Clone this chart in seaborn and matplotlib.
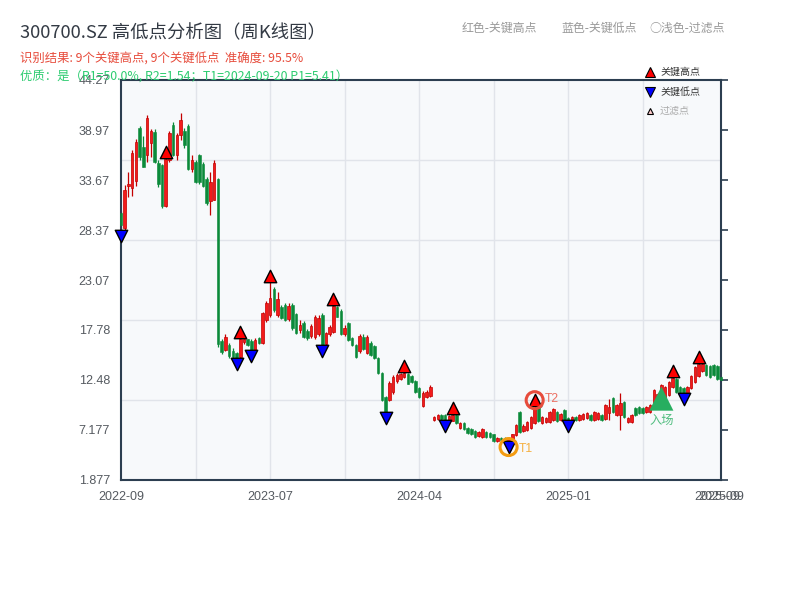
import matplotlib
matplotlib.use("Agg")
import matplotlib.pyplot as plt
import matplotlib.transforms as mtransforms
from matplotlib.lines import Line2D
import numpy as np
import pandas as pd
import seaborn as sns

# ---------------- data ----------------
opens = [30.2, 28.6, 33.0, 32.8, 33.6, 39.2, 37.2, 36.3, 37.6, 38.8,
         35.5, 35.3, 30.9, 35.8, 39.5, 36.3, 38.4, 38.9, 39.4, 34.8,
         35.6, 36.3, 35.4, 33.8, 31.4, 31.6, 33.8, 16.6, 15.7, 16.2,
         15.6, 15.3, 14.9, 16.5, 16.8, 16.6, 15.7, 16.9, 16.4, 18.8,
         19.4, 22.1, 19.4, 20.2, 20.4, 18.9, 20.4, 19.5, 17.8, 18.5,
         17.7, 17.1, 17.0, 17.3, 19.4, 16.3, 17.3, 17.6, 20.2, 19.8,
         17.3, 18.5, 16.9, 16.2, 15.5, 17.0, 15.3, 16.4, 16.1, 14.8,
         13.2, 10.7, 10.4, 11.2, 12.4, 12.6, 12.8, 13.1, 12.9, 12.4,
         11.6, 9.7, 10.7, 10.8, 8.2, 8.3, 8.8, 8.8, 8.2, 8.1,
         8.8, 7.4, 7.9, 7.4, 7.3, 7.1, 6.5, 6.4, 7.0, 6.9,
         6.7, 6.0, 6.3, 6.3, 6.0, 6.1, 6.6, 9.1, 7.1, 7.2,
         7.4, 7.9, 9.6, 7.9, 8.0, 8.0, 8.2, 9.1, 8.2, 9.3,
         8.5, 8.2, 8.6, 8.2, 8.3, 8.4, 8.8, 8.2, 8.3, 8.8,
         8.3, 9.0, 10.6, 8.8, 8.8, 10.1, 8.0, 8.0, 9.5, 9.6,
         9.5, 9.1, 9.1, 9.6, 10.4, 10.9, 10.1, 10.9, 11.7, 12.6,
         11.7, 11.6, 11.1, 11.6, 12.3, 12.9, 13.4, 14.1, 14.0, 14.1,
         14.0, 12.8]
closes = [28.9, 32.6, 33.3, 36.5, 37.7, 36.1, 35.1, 40.2, 38.9, 35.6,
          33.2, 30.9, 35.9, 38.6, 36.3, 38.4, 40.0, 37.4, 34.8, 35.8,
          33.5, 33.5, 33.0, 31.2, 33.5, 35.5, 16.3, 15.4, 17.0, 15.0,
          14.9, 14.8, 16.8, 16.8, 16.2, 15.7, 16.7, 16.4, 19.6, 20.6,
          21.2, 19.9, 21.1, 19.0, 18.8, 20.3, 18.0, 17.5, 18.3, 17.0,
          16.9, 18.2, 19.1, 19.0, 16.2, 17.5, 18.1, 20.3, 19.2, 17.3,
          18.0, 16.7, 16.2, 14.9, 17.1, 15.8, 17.0, 15.1, 14.8, 13.2,
          10.4, 9.1, 12.2, 12.8, 13.0, 13.1, 13.2, 12.1, 12.3, 11.2,
          10.7, 11.1, 11.2, 11.7, 8.6, 8.8, 8.3, 8.2, 8.7, 8.8,
          7.9, 7.9, 7.3, 6.9, 6.7, 6.4, 7.0, 7.3, 6.4, 6.4,
          6.0, 6.3, 6.1, 6.0, 6.3, 6.7, 7.7, 7.0, 7.6, 8.0,
          8.6, 9.5, 8.1, 8.6, 8.5, 9.1, 9.4, 8.1, 8.9, 8.2,
          8.2, 8.6, 8.2, 8.8, 8.9, 9.0, 8.2, 9.1, 9.0, 8.2,
          9.8, 9.6, 9.1, 9.8, 10.0, 8.6, 8.5, 8.8, 8.8, 9.0,
          9.0, 9.6, 9.8, 11.4, 11.0, 11.9, 11.7, 12.3, 12.7, 11.2,
          11.1, 11.1, 11.7, 12.9, 13.9, 14.2, 14.2, 13.0, 12.8, 13.0,
          12.6, 12.5]
highs = [30.4, 33.1, 34.5, 36.8, 38.0, 39.4, 38.3, 40.6, 39.1, 39.1,
         35.8, 35.4, 36.0, 38.9, 39.8, 38.7, 40.8, 39.2, 39.6, 36.3,
         35.8, 36.4, 35.6, 34.0, 34.5, 35.8, 33.9, 16.8, 17.4, 16.4,
         15.9, 15.4, 16.9, 16.85, 16.85, 16.8, 16.9, 17.0, 19.7, 20.8,
         22.9, 22.3, 21.8, 20.4, 20.6, 20.6, 20.6, 19.6, 18.8, 18.7,
         17.9, 18.4, 19.4, 19.4, 19.6, 17.6, 18.3, 20.4, 20.3, 20.0,
         18.3, 18.6, 17.0, 16.3, 17.4, 17.3, 17.2, 16.6, 16.2, 14.9,
         13.3, 10.8, 12.4, 13.0, 13.2, 13.25, 13.3, 13.2, 13.0, 12.5,
         11.7, 11.3, 11.4, 11.9, 8.7, 8.9, 8.9, 8.85, 8.8, 8.9,
         8.85, 8.0, 8.0, 7.5, 7.4, 7.2, 7.1, 7.4, 7.1, 7.0,
         6.8, 6.4, 6.4, 6.4, 6.4, 6.8, 7.8, 9.2, 7.8, 8.1,
         8.7, 9.7, 9.65, 8.7, 8.6, 9.2, 9.5, 9.2, 9.0, 9.4,
         8.6, 8.7, 8.7, 8.9, 9.0, 9.1, 8.9, 9.2, 9.1, 8.9,
         9.9, 10.5, 10.7, 9.9, 11.1, 10.2, 8.6, 8.9, 9.6, 9.7,
         9.6, 9.7, 9.9, 11.5, 11.1, 12.0, 11.8, 12.4, 12.8, 12.7,
         11.8, 11.7, 11.8, 13.0, 14.0, 14.3, 14.25, 14.2, 14.1, 14.2,
         14.1, 12.9]
lows = [28.3, 28.4, 31.9, 32.0, 33.0, 35.8, 35.0, 35.6, 36.1, 35.5,
        32.9, 30.7, 30.8, 35.6, 36.2, 35.8, 37.9, 37.1, 34.7, 34.5,
        33.4, 33.3, 32.9, 31.0, 30.0, 31.5, 16.0, 15.2, 15.6, 14.8,
        14.8, 14.7, 14.8, 16.3, 16.1, 15.55, 15.6, 16.3, 16.3, 18.6,
        19.2, 19.7, 19.2, 18.9, 18.7, 18.7, 17.8, 17.4, 17.5, 16.9,
        16.7, 16.9, 16.8, 17.1, 16.1, 16.2, 17.1, 17.5, 19.1, 17.2,
        17.1, 16.6, 16.1, 14.8, 15.3, 15.7, 15.2, 15.0, 14.7, 13.1,
        10.2, 9.0, 10.2, 11.0, 12.2, 12.5, 12.7, 12.0, 12.2, 11.1,
        10.6, 9.6, 10.6, 10.7, 8.15, 8.2, 8.2, 8.1, 8.15, 8.1,
        7.8, 7.3, 7.2, 6.8, 6.6, 6.3, 6.4, 6.3, 6.3, 6.3,
        5.95, 5.95, 6.0, 5.95, 5.9, 6.0, 6.5, 6.9, 7.0, 7.1,
        7.3, 7.8, 8.0, 7.8, 7.9, 7.9, 8.1, 8.0, 8.1, 8.15,
        8.1, 8.15, 8.15, 8.15, 8.2, 8.3, 8.15, 8.15, 8.2, 8.15,
        8.2, 8.2, 9.0, 8.7, 7.2, 8.5, 7.9, 7.9, 8.7, 8.9,
        8.9, 9.0, 9.0, 9.5, 10.3, 10.8, 10.0, 10.8, 11.6, 11.1,
        11.05, 11.0, 11.05, 11.5, 12.2, 12.8, 13.3, 12.9, 12.7, 12.9,
        12.5, 12.4]

key_high_idx = [12, 32, 40, 57, 76, 89, 111, 148, 155]
key_low_idx = [0, 31, 35, 54, 71, 87, 104, 120, 151]
t1_idx = 104
t2_idx = 111
entry_idx = 145
entry_price = 10.5

xtick_idx = [0, 40, 80, 120, 160, 161]
xtick_labels = ["2022-09", "2023-07", "2024-04", "2025-01", "2025-09", "2025-09"]
y_min, y_max = 1.877, 44.27
ytick_vals = [1.877, 7.177, 12.48, 17.78, 23.07, 28.37, 33.67, 38.97, 44.27]
ytick_labels = ["1.877", "7.177", "12.48", "17.78", "23.07", "28.37", "33.67", "38.97", "44.27"]

title = "300700.SZ 高低点分析图（周K线图）"
subtitle1 = "识别结果: 9个关键高点, 9个关键低点  准确度: 95.5%"
subtitle2 = "优质：是（R1=50.0%, R2=1.54；T1=2024-09-20 P1=5.41）"

df = pd.DataFrame({"open": opens, "close": closes, "high": highs, "low": lows})
df["idx"] = np.arange(len(df))
df["up"] = df["close"] >= df["open"]

# ---------------- style ----------------
sns.set_theme(style="white")
plt.rcParams["font.family"] = ["Liberation Sans", "Noto Sans CJK SC", "DejaVu Sans"]
plt.rcParams["axes.unicode_minus"] = False
CJK = ["Noto Sans CJK SC", "DejaVu Sans"]

W, H = 800, 600
fig = plt.figure(figsize=(8, 6), dpi=100)
ax = fig.add_axes([121 / W, 120 / H, 600 / W, 400 / H])
ax.set_facecolor("#f7f9fb")

UP_FACE, UP_EDGE = "#f21b1b", "#c40000"
DN_FACE = "#0b8a3a"

# grid
for g in np.linspace(y_min, y_max, 6)[1:-1]:
    ax.axhline(g, color="#e1e4ea", lw=1.0, zorder=0)
for gx in range(20, 160, 20):
    ax.axvline(gx, color="#e1e4ea", lw=1.0, zorder=0)

# candles
up = df[df["up"]]
dn = df[~df["up"]]
ax.vlines(up["idx"], up["low"], up["high"], color=UP_EDGE, lw=0.9, zorder=2, clip_on=False)
ax.vlines(dn["idx"], dn["low"], dn["high"], color=DN_FACE, lw=0.9, zorder=2, clip_on=False)
ax.bar(up["idx"], np.maximum(up["close"] - up["open"], 0.12), bottom=up["open"],
       width=0.68, color=UP_FACE, edgecolor=UP_EDGE, linewidth=0.5, zorder=3, clip_on=False)
ax.bar(dn["idx"], np.maximum(dn["open"] - dn["close"], 0.12), bottom=dn["close"],
       width=0.68, color=DN_FACE, edgecolor=DN_FACE, linewidth=0.4, zorder=3, clip_on=False)

# markers
hi_tr = mtransforms.offset_copy(ax.transData, fig=fig, x=0, y=6, units="dots")
lo_tr = mtransforms.offset_copy(ax.transData, fig=fig, x=0, y=-5, units="dots")
kh = df.loc[key_high_idx]
kl = df.loc[key_low_idx]
ax.scatter(kh["idx"], kh["high"], marker="^", s=80, c="#ff0000", edgecolors="black",
           linewidths=1.0, transform=hi_tr, zorder=5, clip_on=False)
ax.scatter(kl["idx"], kl["low"], marker="v", s=80, c="#0000ff", edgecolors="black",
           linewidths=1.0, transform=lo_tr, zorder=5, clip_on=False)

# T1 / T2 rings
ax.scatter([t1_idx], [df.loc[t1_idx, "low"]], marker="o", s=150, facecolors="none",
           edgecolors="#f39c12", linewidths=2.2, transform=lo_tr, zorder=6)
ax.scatter([t2_idx], [df.loc[t2_idx, "high"]], marker="o", s=150, facecolors="none",
           edgecolors="#e74c3c", linewidths=2.2, transform=hi_tr, zorder=6)
t1_tr = mtransforms.offset_copy(ax.transData, fig=fig, x=10, y=-7, units="dots")
t2_tr = mtransforms.offset_copy(ax.transData, fig=fig, x=10, y=7, units="dots")
ax.text(t1_idx, df.loc[t1_idx, "low"], "T1", color="#f5b041", fontsize=8.8,
        va="center", ha="left", transform=t1_tr, zorder=6)
ax.text(t2_idx, df.loc[t2_idx, "high"], "T2", color="#ec7063", fontsize=8.8,
        va="center", ha="left", transform=t2_tr, zorder=6)

# entry
sns.scatterplot(x=[entry_idx], y=[entry_price], marker="^", s=300, color="#27ae60",
                edgecolor="none", ax=ax, zorder=6, legend=False)
en_tr = mtransforms.offset_copy(ax.transData, fig=fig, x=0, y=-22, units="dots")
ax.text(entry_idx, entry_price, "入场", color="#52be80", fontsize=8.8, ha="center",
        va="center", transform=en_tr, zorder=6, family=CJK)

# axes
ax.set_xlim(0, len(df) - 1)
ax.set_ylim(y_min, y_max)
ax.set_yticks(ytick_vals)
ax.set_yticklabels(ytick_labels)
ax.set_xticks(xtick_idx)
ax.set_xticklabels(xtick_labels)
ax.tick_params(axis="both", colors="#2c3e50", labelcolor="#555a60", labelsize=9,
               length=5, width=1.2, direction="out")
ax.tick_params(axis="y", right=True, labelright=False, pad=3)
ax.tick_params(axis="x", pad=3)
for side, sp in ax.spines.items():
    sp.set_color("#2c3e50")
    sp.set_linewidth(1.5)
    sp.set_visible(True)
ax.grid(False)

# texts
def ftext(x, y, s, **kw):
    fig.text(x / W, 1 - y / H, s, va="center", ha="left", **kw)

ftext(20, 33, title, fontsize=13.2, color="#333a44", family=CJK)
ftext(20, 59, subtitle1, fontsize=8.9, color="#e74c3c", family=CJK)
ftext(20, 76, subtitle2, fontsize=8.9, color="#2ecc71", family=CJK)
ftext(462, 28, "红色-关键高点", fontsize=8.6, color="#999999", family=CJK)
ftext(561, 28, "蓝色-关键低点", fontsize=8.6, color="#999999", family=CJK)
ftext(649, 28, "○浅色-过滤点", fontsize=8.6, color="#999999", family=CJK)

# legend (manual)
leg_items = [("^", "#ff0000", 6.5, "关键高点", "#333333", 72),
             ("v", "#0000ff", 6.5, "关键低点", "#333333", 92),
             ("^", "#ffcccc", 4.8, "过滤点", "#aaaaaa", 111)]
for mk, fc, ms, lab, tc, yy in leg_items:
    fig.add_artist(Line2D([650 / W], [1 - yy / H], marker=mk, markersize=ms,
                          markerfacecolor=fc, markeredgecolor="black", markeredgewidth=0.8,
                          linestyle="none", transform=fig.transFigure))
    ftext(660, yy, lab, fontsize=7.2, color=tc, family=CJK)

fig.savefig("out.png", dpi=100, facecolor="white")
